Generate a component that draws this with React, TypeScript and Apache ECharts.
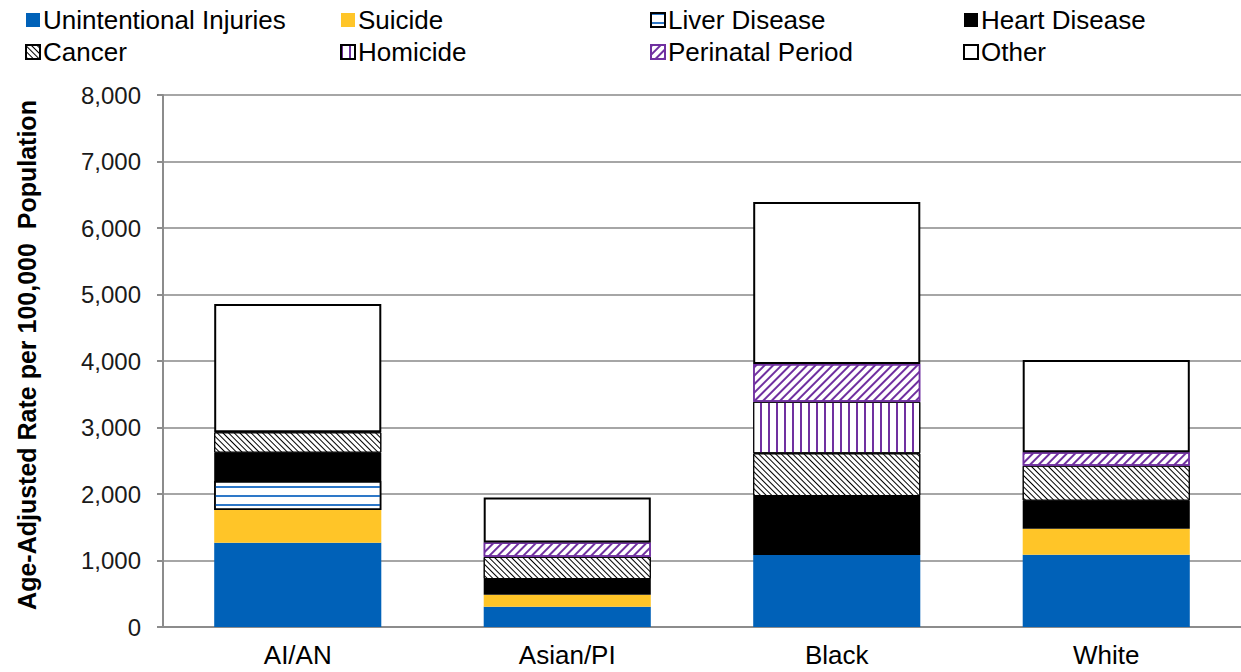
import React, { useEffect, useRef } from "react";
import * as echarts from "echarts";

const categories = ["AI/AN", "Asian/PI", "Black", "White"];
const unintentionalInjuries = [1268, 306, 1083, 1088];
const suicide = [491, 178, 0, 390];
const liverDisease = [436, 0, 0, 0];
const heartDisease = [426, 236, 887, 421];
const cancer = [307, 335, 642, 527];
const homicide = [0, 0, 776, 0];
const perinatalPeriod = [0, 217, 567, 201];
const other = [1929, 676, 2436, 1388];

const yTicks = [0, 1000, 2000, 3000, 4000, 5000, 6000, 7000, 8000];
const yTitle = "Age-Adjusted Rate per 100,000  Population";

const FONT = "Liberation Sans, Arial, sans-serif";
const PURPLE = "#7030A0";

const nz = (arr: number[]) => arr.map((v) => (v === 0 ? "-" : v));

export default function App() {
  const ref = useRef<HTMLDivElement>(null);
  useEffect(() => {
    if (!ref.current) return;
    const chart = echarts.init(ref.current, null, { renderer: "svg" });

    const base = (name: string, data: number[], itemStyle: any) => ({
      name,
      type: "bar",
      stack: "total",
      barWidth: "62%",
      data: nz(data),
      itemStyle,
      emphasis: { disabled: true },
    });

    const series = [
      base("Unintentional Injuries", unintentionalInjuries, { color: "#0061B8" }),
      base("Suicide", suicide, { color: "#FFC528" }),
      base("Liver Disease", liverDisease, {
        color: "#ffffff",
        borderColor: "#000000",
        borderWidth: 1.5,
        decal: {
          symbol: "rect",
          symbolSize: 1,
          dashArrayX: [1, 0],
          dashArrayY: [1.5, 6.5],
          rotation: 0,
          color: "#2E78C8",
        },
      }),
      base("Heart Disease", heartDisease, { color: "#000000" }),
      base("Cancer", cancer, {
        color: "#ffffff",
        borderColor: "#000000",
        borderWidth: 1,
        decal: {
          symbol: "rect",
          symbolSize: 1,
          dashArrayX: [1, 0],
          dashArrayY: [1, 2.5],
          rotation: Math.PI / 4,
          color: "#000000",
        },
      }),
      base("Homicide", homicide, {
        color: "#ffffff",
        borderColor: "#000000",
        borderWidth: 1,
        decal: {
          symbol: "rect",
          symbolSize: 1,
          dashArrayX: [2, 5.6],
          dashArrayY: [1, 0],
          rotation: 0,
          color: PURPLE,
        },
      }),
      base("Perinatal Period", perinatalPeriod, {
        color: "#ffffff",
        borderColor: PURPLE,
        borderWidth: 1.5,
        decal: {
          symbol: "rect",
          symbolSize: 1,
          dashArrayX: [1, 0],
          dashArrayY: [1.2, 3.2],
          rotation: -Math.PI / 4,
          color: PURPLE,
        },
      }),
      base("Other", other, {
        color: "#ffffff",
        borderColor: "#000000",
        borderWidth: 2,
      }),
    ];

    const legendCommon = {
      orient: "vertical",
      top: 2,
      itemWidth: 14,
      itemHeight: 14,
      itemGap: 6,
      icon: "rect",
      selectedMode: false,
      textStyle: { fontFamily: FONT, fontSize: 26, color: "#000000", padding: [0, 0, 0, -2] },
    };

    chart.setOption({
      animation: false,
      backgroundColor: "#ffffff",
      textStyle: { fontFamily: FONT },
      legend: [
        { ...legendCommon, left: 20, data: ["Unintentional Injuries", "Cancer"] },
        { ...legendCommon, left: 335, data: ["Suicide", "Homicide"] },
        { ...legendCommon, left: 645, data: ["Liver Disease", "Perinatal Period"] },
        { ...legendCommon, left: 958, data: ["Heart Disease", "Other"] },
      ],
      grid: { left: 163, right: 0, top: 95, bottom: 45, containLabel: false },
      xAxis: {
        type: "category",
        data: categories,
        axisLine: { lineStyle: { color: "#8C8C8C", width: 2 } },
        axisTick: { show: false },
        axisLabel: { fontSize: 26, color: "#000000", margin: 15, fontFamily: FONT },
      },
      yAxis: {
        type: "value",
        min: yTicks[0],
        max: yTicks[yTicks.length - 1],
        interval: 1000,
        axisLine: { show: true, lineStyle: { color: "#8C8C8C", width: 2 } },
        axisTick: { show: true, length: 6, lineStyle: { color: "#8C8C8C", width: 2 } },
        splitLine: { lineStyle: { color: "#A6A6A6", width: 2 } },
        axisLabel: {
          fontSize: 24,
          color: "#1a1a1a",
          margin: 22,
          fontFamily: FONT,
          formatter: (v: number) => v.toLocaleString("en-US"),
        },
      },
      graphic: [
        {
          type: "text",
          x: 27,
          y: 355,
          rotation: Math.PI / 2,
          style: {
            text: yTitle,
            fontSize: 25,
            fontWeight: "bold",
            fontFamily: FONT,
            fill: "#000000",
            align: "center",
            verticalAlign: "middle",
          },
        },
      ],
      series,
    });

    return () => chart.dispose();
  }, []);

  return <div ref={ref} style={{ width: 1241, height: 672, position: "absolute", left: 0, top: 0 }} />;
}
